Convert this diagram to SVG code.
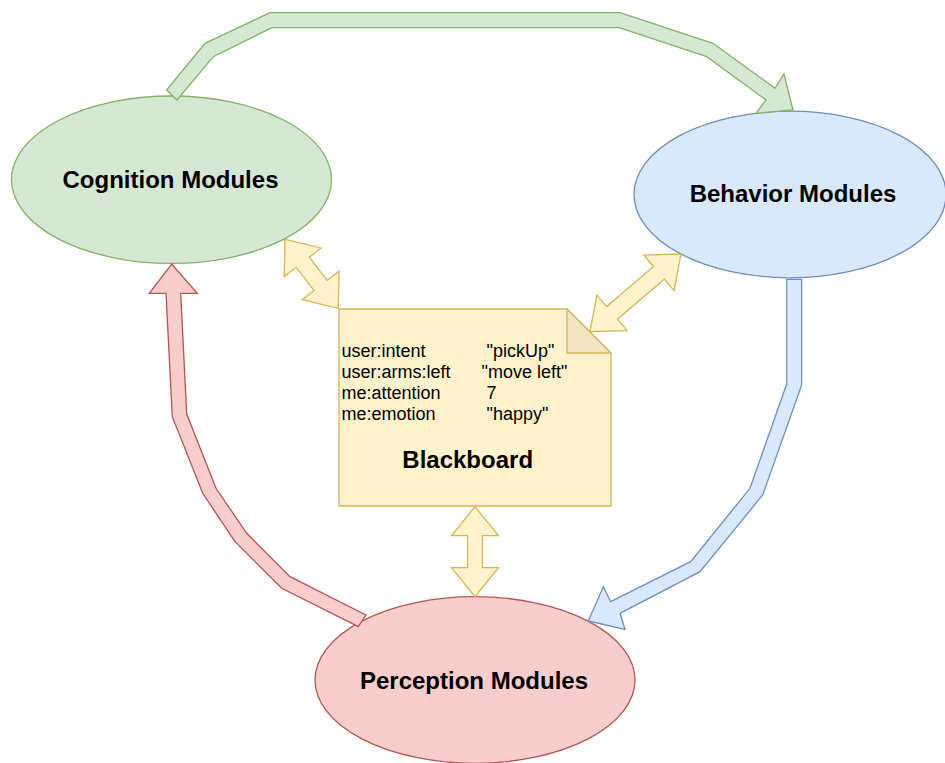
<svg xmlns="http://www.w3.org/2000/svg" width="945" height="763" viewBox="0 0 945 763">
<style>
.lbl{font-family:"Liberation Sans",Arial,Helvetica,sans-serif;font-size:24px;font-weight:bold;fill:#000;text-anchor:middle}
.kv{font-family:"Liberation Sans",Arial,Helvetica,sans-serif;font-size:18px;fill:#000}
.g{fill:#d5e8d4;stroke:#82b366;stroke-width:1.3}
.b{fill:#dae8fc;stroke:#6c8ebf;stroke-width:1.3}
.r{fill:#f8cecc;stroke:#b85450;stroke-width:1.3}
.y{fill:#fff2cc;stroke:#d6b656;stroke-width:1.3}
</style>
<rect width="945" height="763" fill="#ffffff"/>
<g id="cognition">
<ellipse class="g" cx="171.5" cy="179.7" rx="160" ry="83.7"/>
<text class="lbl" x="170.5" y="188">Cognition Modules</text>
</g>
<g id="behavior">
<ellipse class="b" cx="790" cy="194.5" rx="156" ry="83.3"/>
<text class="lbl" x="793" y="202">Behavior Modules</text>
</g>
<g id="perception">
<ellipse class="r" cx="475" cy="680" rx="160" ry="83.3"/>
<text class="lbl" x="474" y="689">Perception Modules</text>
</g>
<g id="blackboard">
<polygon class="y" points="339,309 567,309 611,353 611,506 339,506"/>
<polygon points="567,309 567,353 611,353" fill="#f0e3c0" stroke="#d6b656" stroke-width="1.3" stroke-linejoin="round"/>
<text class="kv" x="341.5" y="357">user:intent</text>
<text class="kv" x="486.5" y="357">"pickUp"</text>
<text class="kv" x="341.5" y="378">user:arms:left</text>
<text class="kv" x="481.5" y="378">"move left"</text>
<text class="kv" x="341.5" y="399">me:attention</text>
<text class="kv" x="486.5" y="399">7</text>
<text class="kv" x="341.5" y="420">me:emotion</text>
<text class="kv" x="486.5" y="420">"happy"</text>
<text class="lbl" x="467.7" y="468">Blackboard</text>
</g>
<g id="connectors">
<polygon class="g" points="166.7,90 205,43.3 270,12.7 620,12.7 713,43.3 775,88.3 784,74 793,110 756,113.3 766,100 706.7,56.7 619.3,27.7 271.7,27.7 213.3,56.7 177,100"/>
<polygon class="r" points="171.7,264 197.3,293.3 180.7,293.3 186.7,414 216,488.3 246.7,533.3 290,576.7 366,615 358.3,626.7 281.7,588.3 235,541.7 202.7,493.3 172.3,416.7 166,293.3 149.3,293.3"/>
<polygon class="b" points="786.7,279.3 801.7,279.3 801.7,385 762.7,495 700,571.7 620,613.3 625,629.3 588.3,621 603.3,586.7 610.7,601.7 690.7,561.7 750,488.3 786.7,384"/>
<polygon class="y" points="285,239.3 321.25,247.95 309.3,257.18 327.14,280.28 339.09,271.05 338.3,308.3 302.05,299.65 314,290.42 296.16,267.32 284.21,276.55"/>
<polygon class="y" points="590,331.7 627.24,330.67 617.44,319.18 664.34,279.14 674.14,290.63 681,254 643.76,255.03 653.56,266.52 606.66,306.56 596.86,295.07"/>
<polygon class="y" points="475,506.7 498.5,535.7 482.5,535.7 482.5,567.7 498.5,567.7 475,596.7 451.5,567.7 467.5,567.7 467.5,535.7 451.5,535.7"/>
</g>
</svg>
